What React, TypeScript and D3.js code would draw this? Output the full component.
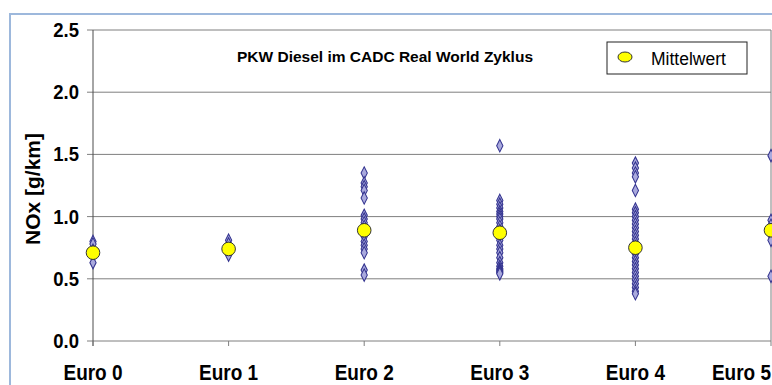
import React from "react";
import * as d3 from "d3";

const categories = ["Euro 0", "Euro 1", "Euro 2", "Euro 3", "Euro 4", "Euro 5"];
const euro0 = [0.8, 0.78, 0.73, 0.68, 0.63];
const euro1 = [0.81, 0.78, 0.74, 0.71, 0.69];
const euro2 = [1.35, 1.27, 1.24, 1.21, 1.15, 1.01, 0.98, 0.95, 0.92, 0.87, 0.84, 0.8, 0.77, 0.74, 0.71, 0.57, 0.53];
const euro3 = [1.57, 1.13, 1.1, 1.07, 1.04, 1.02, 1.0, 0.98, 0.95, 0.92, 0.89, 0.85, 0.81, 0.77, 0.74, 0.71, 0.67, 0.63, 0.6, 0.58, 0.57, 0.56, 0.55, 0.54];
const euro4 = [1.43, 1.39, 1.35, 1.32, 1.21, 1.06, 1.03, 1.0, 0.97, 0.94, 0.91, 0.88, 0.85, 0.82, 0.79, 0.76, 0.73, 0.7, 0.67, 0.64, 0.61, 0.58, 0.55, 0.52, 0.49, 0.46, 0.43, 0.4, 0.38];
const euro5 = [1.49, 0.97, 0.93, 0.85, 0.81, 0.52];
const seriesValues = [euro0, euro1, euro2, euro3, euro4, euro5];
const means = [0.71, 0.74, 0.89, 0.87, 0.75, 0.89];
const yTicks = [0, 0.5, 1.0, 1.5, 2.0, 2.5];
const title = "PKW Diesel im CADC Real World Zyklus";
const legendLabel = "Mittelwert";
const yTitle = "NOx [g/km]";

export default function App() {
  const W = 772, H = 385;
  const left = 93, right = 771, top = 30, bottom = 341;
  const x = d3.scaleLinear().domain([0, categories.length - 1]).range([left, right]);
  const y = d3.scaleLinear().domain([0, 2.5]).range([bottom, top]);
  const diamond = d3.symbol().type(d3.symbolDiamond).size(34)();
  const font = "Arial, 'Liberation Sans', sans-serif";
  const last = categories.length - 1;

  return (
    <svg width={W} height={H} style={{ position: "absolute", left: 0, top: 0, background: "#fff" }} fontFamily={font}>
      <rect x={0} y={0} width={W} height={H} fill="#fff" />
      <rect x={10} y={14} width={W + 20} height={H + 20} fill="#fff" stroke="#9DB8DC" strokeWidth={2} />
      {yTicks.map((t) => (
        <g key={t}>
          <line x1={left - 6} x2={right} y1={y(t)} y2={y(t)} stroke="#7f7f7f" strokeWidth={1} />
          <text
            transform={`translate(79,${y(t) + 7}) scale(1,1.12)`}
            textAnchor="end"
            fontSize={18.5}
            fontWeight="bold"
            fill="#000"
          >
            {d3.format(".1f")(t)}
          </text>
        </g>
      ))}
      <line x1={left} x2={left} y1={top} y2={bottom + 5} stroke="#4d4d4d" strokeWidth={1} />
      <line x1={right} x2={right} y1={top} y2={bottom} stroke="#7f7f7f" strokeWidth={1} />
      {categories.map((c, i) => (
        <g key={c}>
          <line x1={x(i)} x2={x(i)} y1={bottom} y2={bottom + 5} stroke="#7f7f7f" />
          <text
            transform={`translate(${i === last ? W - 1 : x(i)},380) scale(1,1.12)`}
            textAnchor={i === last ? "end" : "middle"}
            fontSize={19}
            fontWeight="bold"
            fill="#000"
          >
            {c}
          </text>
        </g>
      ))}
      {seriesValues.map((vals, i) =>
        vals.map((v, j) => (
          <path
            key={`${i}-${j}`}
            d={diamond}
            transform={`translate(${x(i)},${y(v)}) scale(1,1.15)`}
            fill="#A9A9DD"
            stroke="#33338F"
            strokeWidth={1}
          />
        ))
      )}
      {means.map((m, i) => (
        <circle key={i} cx={x(i)} cy={y(m)} r={6.8} fill="#FFFF00" stroke="#333" strokeWidth={1} />
      ))}
      <text x={385} y={62} textAnchor="middle" fontSize={15.5} fontWeight="bold" fill="#000">
        {title}
      </text>
      <rect x={607} y={42} width={140} height={32} fill="#fff" stroke="#222" strokeWidth={1} />
      <ellipse cx={625} cy={57} rx={7} ry={5} fill="#FFFF00" stroke="#333" strokeWidth={1} />
      <text x={651} y={65} fontSize={17.5} fill="#000">
        {legendLabel}
      </text>
      <text
        transform={`translate(40,189) rotate(-90)`}
        textAnchor="middle"
        fontSize={21}
        fontWeight="bold"
        fill="#000"
      >
        {yTitle}
      </text>
    </svg>
  );
}
